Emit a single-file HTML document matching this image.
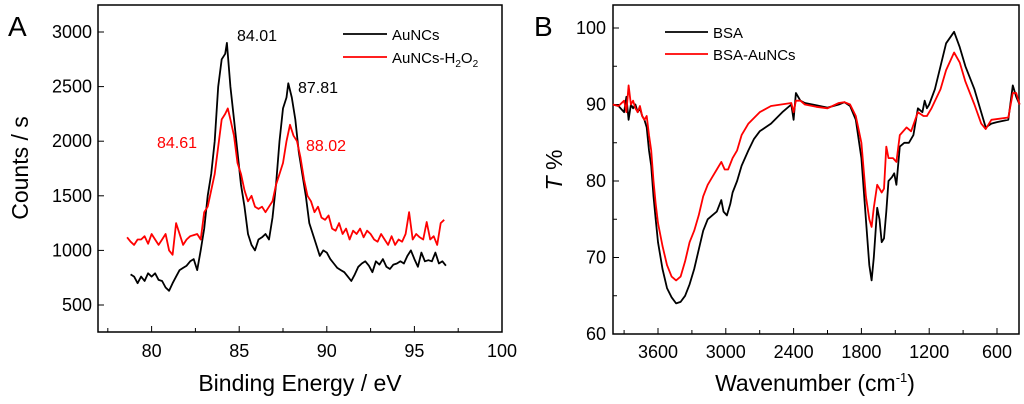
<!DOCTYPE html>
<html><head><meta charset="utf-8"><style>
html,body{margin:0;padding:0;background:#fff;}
svg{display:block;font-family:"Liberation Sans",Arial,sans-serif;}
</style></head><body>
<svg id="chart" width="1024" height="404" viewBox="0 0 1024 404">
<g id="pa"></g>
<g id="pb"></g>
</svg>
<script>
// ---- Panel A data ----
const aX_black = [78.8,79.0,79.2,79.4,79.6,79.8,80.0,80.2,80.4,80.6,80.8,81.0,81.2,81.4,81.6,81.8,82.0,82.2,82.4,82.6,82.8,83.0,83.2,83.4,83.6,83.8,84.0,84.2,84.3,84.5,84.7,84.9,85.1,85.3,85.5,85.7,85.9,86.1,86.3,86.5,86.7,86.9,87.1,87.3,87.5,87.7,87.8,88.0,88.2,88.4,88.6,88.8,89.0,89.2,89.4,89.6,89.8,90.0,90.2,90.4,90.6,90.8,91.0,91.2,91.4,91.6,91.8,92.0,92.2,92.4,92.6,92.8,93.0,93.2,93.4,93.6,93.8,94.0,94.2,94.4,94.6,94.8,95.0,95.2,95.4,95.6,95.8,96.0,96.2,96.4,96.6,96.8];
const aY_black = [780,760,700,760,720,790,760,790,730,720,660,630,700,760,820,840,860,900,920,820,1000,1200,1500,1700,2000,2500,2750,2800,2900,2500,2200,1900,1600,1400,1150,1050,1000,1100,1120,1150,1100,1300,1600,2000,2300,2400,2530,2400,2200,1900,1700,1500,1250,1150,1050,950,1000,980,920,880,840,820,800,760,720,780,850,880,900,860,800,900,870,920,850,830,870,880,900,880,950,1000,920,850,980,900,910,900,980,880,900,860];
const aX_red = [78.6,78.8,79.0,79.2,79.4,79.6,79.8,80.0,80.2,80.4,80.6,80.8,81.0,81.2,81.4,81.6,81.8,82.0,82.2,82.4,82.6,82.8,83.0,83.2,83.4,83.6,83.8,84.0,84.2,84.35,84.5,84.7,84.9,85.1,85.3,85.5,85.7,85.9,86.1,86.3,86.5,86.7,86.9,87.1,87.3,87.5,87.7,87.9,88.1,88.3,88.5,88.7,88.9,89.1,89.3,89.5,89.7,89.9,90.1,90.3,90.5,90.7,90.9,91.1,91.3,91.5,91.7,91.9,92.1,92.3,92.5,92.7,92.9,93.1,93.3,93.5,93.7,93.9,94.1,94.3,94.5,94.7,94.9,95.1,95.3,95.5,95.7,95.9,96.1,96.3,96.5,96.7];
const aY_red = [1120,1080,1050,1100,1100,1130,1060,1150,1100,1050,1100,1150,1000,960,1250,1150,1050,1100,1130,1140,1150,1100,1350,1400,1550,1700,1950,2200,2250,2300,2200,2050,1800,1700,1550,1450,1500,1400,1380,1400,1350,1400,1450,1600,1700,1800,2000,2150,2050,2000,1850,1650,1500,1450,1350,1400,1300,1280,1320,1200,1180,1250,1150,1200,1100,1180,1150,1200,1120,1180,1150,1100,1080,1150,1100,1050,1130,1050,1100,1080,1150,1350,1100,1150,1120,1100,1260,1100,1130,1050,1250,1280];
const aXTicks = [80,85,90,95,100];
const aYTicks = [500,1000,1500,2000,2500,3000];
// ---- Panel B data ----
const bX_black = [4000,3950,3900,3880,3860,3840,3820,3800,3780,3760,3740,3720,3700,3680,3660,3640,3620,3600,3560,3520,3480,3440,3400,3360,3320,3280,3240,3200,3160,3120,3080,3040,3020,2990,2960,2940,2900,2860,2800,2750,2700,2600,2500,2420,2400,2380,2340,2300,2200,2100,2000,1950,1900,1850,1800,1760,1730,1710,1690,1660,1640,1620,1600,1580,1560,1530,1510,1490,1460,1420,1380,1340,1300,1260,1240,1220,1200,1150,1100,1050,980,930,880,800,740,700,650,600,500,460,430,400];
const bY_black = [90,89.8,89,91,88,90,89.5,90,89,89.5,88.5,88,87,84,82,78,75,72,68.5,66,64.8,64,64.2,65,66.5,68.5,71,73.5,75,75.5,76,77.5,76,75.5,77,78.5,80,82,84,85.5,86.5,87.5,89,90,88,91.5,90.5,90.2,89.9,89.6,90,90.3,89.8,88,83,75,69,67,70,76.5,75,72,72.5,76,80,80.5,81,79.5,84.5,85,85,86,89.5,89,90.5,89.5,90,92,95,98,99.5,97.5,95,92,89,87,87.5,87.7,88,92.5,91,90];
const bX_red = [4000,3950,3900,3880,3860,3840,3820,3800,3780,3760,3740,3720,3700,3680,3660,3640,3620,3600,3560,3520,3480,3440,3400,3360,3320,3280,3240,3200,3160,3120,3080,3040,3010,2980,2940,2900,2860,2800,2700,2600,2420,2400,2380,2340,2300,2200,2100,2000,1950,1900,1850,1800,1760,1730,1710,1690,1660,1640,1620,1600,1580,1560,1520,1490,1460,1400,1360,1300,1250,1220,1180,1100,1050,980,930,880,800,740,700,650,500,460,430,400];
const bY_red = [90,89.8,90.5,89,92.5,90,90.5,89.5,89,89.8,88.5,88,88.5,86,84,80,77,74.5,71.5,69,67.5,67,67.5,69.5,72,73.5,75.5,78,79.5,80.5,81.5,82.5,81.5,81.5,83,84,86,87.5,89,89.8,90.2,89,90.5,90.5,90,89.7,89.5,90.2,90.3,90,88.5,85,78,75,74,76.5,79.5,79,78.5,79,84.5,83,83,82.5,86,87,86.5,89,88.5,88.5,89.5,92,94.5,96.8,95.5,93,90,87.5,86.8,88,88.3,91.5,91.5,90];
const bXTicks = [3600,3000,2400,1800,1200,600];
const bYTicks = [60,70,80,90,100];

const NS="http://www.w3.org/2000/svg";
function mk(parent,tag,attrs,text){const e=document.createElementNS(NS,tag);for(const k in attrs)e.setAttribute(k,attrs[k]);if(text!==undefined)e.textContent=text;parent.appendChild(e);return e;}
function lin(d0,d1,r0,r1){return v=>r0+(v-d0)*(r1-r0)/(d1-d0);}

// ---- Panel A ----
const pa=document.getElementById('pa');
const ax=lin(76.94,100,98,502), ay=lin(500,3000,305,32);
let e=mk(pa,'rect',{x:98,y:5,width:404,height:327,fill:'none',stroke:'#000','stroke-width':1.5});

aXTicks.forEach(t=>{const x=ax(t);mk(pa,'line',{x1:x,x2:x,y1:332,y2:326,stroke:'#000'});
 e=mk(pa,'text',{x:x,y:357,'text-anchor':'middle','font-size':18},t);});
[77.5,82.5,87.5,92.5,97.5].forEach(t=>{const x=ax(t);mk(pa,'line',{x1:x,x2:x,y1:332,y2:328,stroke:'#000'});});
aYTicks.forEach(t=>{const y=ay(t);mk(pa,'line',{x1:98,x2:104,y1:y,y2:y,stroke:'#000'});
 e=mk(pa,'text',{x:92,y:y+6,'text-anchor':'end','font-size':18},t);});
function path(g,xs,ys,fx,fy,col,name){const d=xs.map((v,i)=>(i?'L':'M')+fx(v).toFixed(1)+','+fy(ys[i]).toFixed(1)).join('');const p=mk(g,'path',{d:d,fill:'none',stroke:col,'stroke-width':1.8,'stroke-linejoin':'round'});}
path(pa,aX_black,aY_black,ax,ay,'#000','series-aunc');
path(pa,aX_red,aY_red,ax,ay,'#f00','series-aunc-h2o2');
e=mk(pa,'text',{x:8,y:36,'font-size':28},'A');
e=mk(pa,'text',{x:300,y:391,'text-anchor':'middle','font-size':23},'Binding Energy / eV');
e=mk(pa,'text',{x:0,y:0,'text-anchor':'middle','font-size':23,transform:'translate(28,168) rotate(-90)'},'Counts / s');
[['84.01',237,41,'#000'],['87.81',298,93,'#000'],['84.61',157,148,'#f00'],['88.02',306,151,'#f00']].forEach(a=>{e=mk(pa,'text',{x:a[1],y:a[2],'font-size':16,fill:a[3]},a[0]);});
mk(pa,'line',{x1:343,x2:387,y1:34,y2:34,stroke:'#000','stroke-width':1.8});
e=mk(pa,'text',{x:392,y:40,'font-size':15},'AuNCs');
mk(pa,'line',{x1:343,x2:387,y1:57,y2:57,stroke:'#f00','stroke-width':1.8});
e=mk(pa,'text',{x:392,y:63,'font-size':15});
e.innerHTML='AuNCs-H<tspan font-size="10" dy="4">2</tspan><tspan dy="-4">O</tspan><tspan font-size="10" dy="4">2</tspan>';

// ---- Panel B ----
const pb=document.getElementById('pb');
const bx=lin(3600,600,658,997), by=lin(60,100,334,28);
e=mk(pb,'rect',{x:613,y:5,width:406,height:329,fill:'none',stroke:'#000','stroke-width':1.5});

bXTicks.forEach(t=>{const x=bx(t);mk(pb,'line',{x1:x,x2:x,y1:334,y2:328,stroke:'#000'});
 e=mk(pb,'text',{x:x,y:358,'text-anchor':'middle','font-size':18},t);});
[3900,3300,2700,2100,1500,900].forEach(t=>{const x=bx(t);mk(pb,'line',{x1:x,x2:x,y1:334,y2:330,stroke:'#000'});});
bYTicks.forEach(t=>{const y=by(t);mk(pb,'line',{x1:613,x2:619,y1:y,y2:y,stroke:'#000'});
 e=mk(pb,'text',{x:606,y:y+6,'text-anchor':'end','font-size':18},t);});
[65,75,85,95].forEach(t=>{const y=by(t);mk(pb,'line',{x1:613,x2:617,y1:y,y2:y,stroke:'#000'});});
path(pb,bX_black,bY_black,bx,by,'#000','series-bsa');
path(pb,bX_red,bY_red,bx,by,'#f00','series-bsa-aunc');
e=mk(pb,'text',{x:534,y:36,'font-size':28},'B');
e=mk(pb,'text',{x:815,y:391,'text-anchor':'middle','font-size':23});
e.innerHTML='Wavenumber (cm<tspan font-size="13" dy="-9">-1</tspan><tspan dy="9">)</tspan>';
e=mk(pb,'text',{x:0,y:0,'text-anchor':'middle','font-size':23,transform:'translate(562,170) rotate(-90)'});
e.innerHTML='<tspan font-style="italic">T</tspan> %';
mk(pb,'line',{x1:665,x2:708,y1:32,y2:32,stroke:'#000','stroke-width':1.8});
e=mk(pb,'text',{x:713,y:38,'font-size':15},'BSA');
mk(pb,'line',{x1:665,x2:708,y1:54,y2:54,stroke:'#f00','stroke-width':1.8});
e=mk(pb,'text',{x:713,y:60,'font-size':15},'BSA-AuNCs');
</script>
</body></html>
